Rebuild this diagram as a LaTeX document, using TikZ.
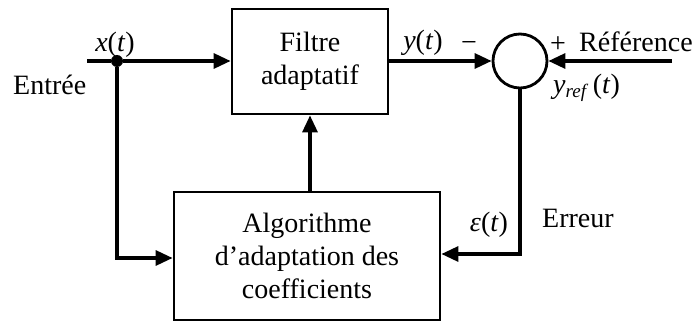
\documentclass[tikz,border=0pt]{standalone}
\usepackage{fontspec}
\setmainfont{Liberation Serif}
\usetikzlibrary{arrows.meta}
\begin{document}
\begin{tikzpicture}[x=1pt,y=1pt,
  every node/.style={font=\fontsize{28}{33}\selectfont},
  blk/.style={draw,line width=2.8pt,rectangle,align=center,inner sep=0pt},
  wire/.style={line width=3.2pt},
  arr/.style={wire,-{Triangle[length=17pt,width=15pt]}},
  lbl/.style={inner sep=0pt}]
\useasboundingbox (0,0) rectangle (699,322);
% blocks
\node[blk,minimum width=156pt,minimum height=105pt] (filt) at (310,260.5) {Filtre\\adaptatif};
\node[blk,minimum width=266pt,minimum height=128pt] (algo) at (307,66) {Algorithme\\d’adaptation des\\coefficients};
\node[draw,circle,line width=2.8pt,minimum size=54pt,inner sep=0pt] (sum) at (520,261) {};
% points
\coordinate (in) at (87,261);
\coordinate (ref) at (672,261);
\node[circle,fill,inner sep=0pt,minimum size=12pt] (dot) at (117,261) {};
\coordinate (fl) at (117,64);
\coordinate (er) at (520,68);
\coordinate (up) at (310,130);
% connectors
\draw[wire] (in) -- (dot);
\draw[arr] (dot) -- (filt.west|-dot);
\draw[arr] (dot) -- (fl) -- (algo.west|-fl);
\draw[arr] (filt.east|-sum) -- (sum.west);
\draw[arr] (ref) -- (sum.east);
\draw[arr] (sum.south) -- (er) -- (algo.east|-er);
\draw[arr] (up) -- (filt.south-|up);
% labels
\node[lbl] (lx) at (115,277) {\textit{x}(\textit{t})};
\node[lbl,anchor=west] (lin) at (13,237) {Entrée};
\node[lbl] (ly) at (423,279) {\textit{y}(\textit{t})};
\node[lbl] (lm) at (469,275) {−};
\node[lbl] (lp) at (558,277) {+};
\node[lbl,anchor=west] (lref) at (579,280) {Référence};
\node[lbl,anchor=west] (lyref) at (553,234) {\textit{y}\raisebox{-0.3ex}{\fontsize{19}{19}\selectfont\textit{ref}}\,(\textit{t})};
\node[lbl] (leps) at (489,97) {\textit{ε}(\textit{t})};
\node[lbl,anchor=west] (lerr) at (542,104) {Erreur};
\end{tikzpicture}
\end{document}
